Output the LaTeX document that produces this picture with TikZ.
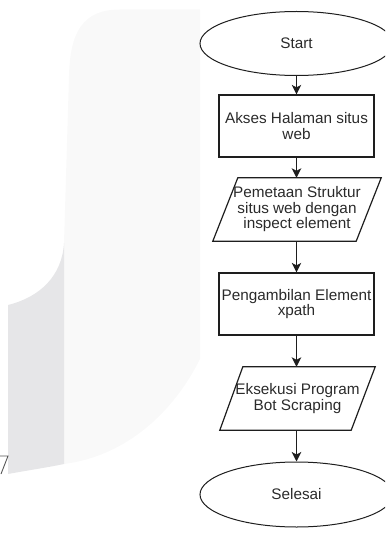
\documentclass[tikz,border=0pt]{standalone}
\usepackage{fontspec}
\setmainfont{Liberation Sans}
\usetikzlibrary{shapes.geometric,arrows.meta}
\definecolor{bglight}{HTML}{F9F9F9}
\definecolor{bgdark}{HTML}{E6E6E8}
\definecolor{ink}{HTML}{1E1E1E}
\definecolor{txt}{HTML}{2A2A2A}
\begin{document}
\begin{tikzpicture}[x=1pt,y=-1pt,
  every node/.style={font=\fontsize{15.3}{15.5}\selectfont, text=txt},
  termnode/.style={ellipse, draw=ink, line width=1pt, minimum width=193pt, minimum height=64pt, inner sep=0pt},
  procbox/.style={rectangle, draw=ink, line width=1.2pt, minimum width=155pt, minimum height=62pt, inner sep=0pt, align=center},
  iobox/.style={rectangle, draw=none, inner sep=0pt, align=center, minimum height=63pt},
  iooutline/.style={draw=ink, line width=1.2pt, line join=miter},
  flowarrow/.style={-{Stealth[length=9.5pt,width=9.5pt,inset=2.5pt]}, draw=ink, line width=1.3pt}]
\useasboundingbox (0,0) rectangle (385,548);
\clip (0,0) rectangle (385,548);
% background watermark shapes
\fill[bglight] (200,9.5) -- (120,9.5) .. controls (82,9.5) and (70,33) .. (69,76)
  -- (64,243) -- (64,464) .. controls (120,457) and (170,419) .. (200,359) -- cycle;
\fill[bgdark] (64,243) .. controls (62,276) and (40,297) .. (8,305)
  -- (8,474) .. controls (30,470) and (50,467) .. (64,464) -- cycle;
\draw[ink!75, line width=0.9pt] (0,456) -- (8,456) -- (1,474);
% flowchart nodes
\node[termnode] (start) at (296.5,43.5) {Start};
\node[procbox] (b1) at (296.5,126) {Akses Halaman situs\\web};
\node[iobox, minimum width=168pt] (p1) at (297,209.5) {Pemetaan Struktur\\situs web dengan\\inspect element};
\node[procbox] (b2) at (296.5,304) {Pengambilan Element\\xpath};
\node[iobox, minimum width=155pt] (p2) at (297.5,398.5) {Eksekusi Program\\Bot Scraping};
\node[termnode, minimum height=65pt] (end) at (296.5,494.5) {Selesai};
\draw[iooutline] ([xshift=25pt]p1.north west) -- (p1.north east) -- ([xshift=-25pt]p1.south east) -- (p1.south west) -- cycle;
\draw[iooutline] ([xshift=23pt]p2.north west) -- (p2.north east) -- ([xshift=-24pt]p2.south east) -- (p2.south west) -- cycle;
% connectors
\draw[flowarrow] (start.south) -- (b1.north);
\draw[flowarrow] (b1.south) -- (b1.south |- p1.north);
\draw[flowarrow] (b1.south |- p1.south) -- (b2.north);
\draw[flowarrow] (b2.south) -- (b2.south |- p2.north);
\draw[flowarrow] (b2.south |- p2.south) -- (end.north);
\end{tikzpicture}
\end{document}
